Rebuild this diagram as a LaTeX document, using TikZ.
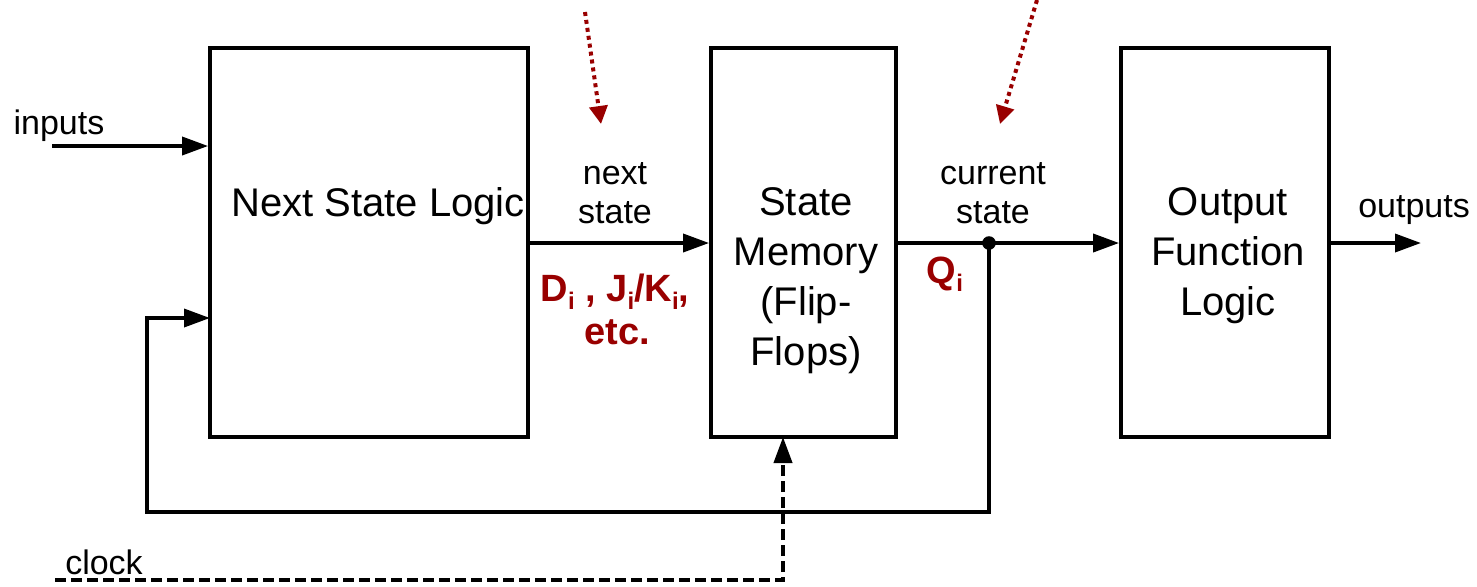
\documentclass[tikz,border=0pt]{standalone}
\usepackage{fontspec}
\setmainfont{Liberation Sans}
\usetikzlibrary{arrows.meta}
\definecolor{dred}{HTML}{990000}
\newcommand\sbi{\raisebox{-0.4ex}{\fontsize{12}{12}\selectfont\bfseries i}}
\begin{document}
\begin{tikzpicture}[x=0.5pt,y=-0.5pt,
  blk/.style={draw,line width=1.9pt,minimum width=#1,minimum height=194.5pt,inner sep=0pt,align=center,font=\fontsize{20}{24.5}\selectfont},
  arr/.style={line width=1.8pt,-{Triangle[length=13pt,width=9pt]}},
  lbl/.style={font=\fontsize{17}{20}\selectfont,inner sep=0pt,align=center},
  rlbl/.style={font=\fontsize{19}{20}\selectfont\bfseries,text=dred,inner sep=0pt,align=center},
  dotarr/.style={draw=dred,line width=2pt,dash pattern=on 2pt off 2pt,-{Triangle[length=9pt,width=9pt,fill=dred]}}]
\useasboundingbox (0,0) rectangle (1477,586);
% boxes
\node[blk=159pt] (nsl) at (369,242.5) {};
\node[blk=92.5pt] (sm) at (803.5,242.5) {};
\node[blk=104pt] (ofl) at (1225,242.5) {};
\node[font=\fontsize{20}{24.5}\selectfont,inner sep=0pt] (nsltxt) at (378,206) {Next State Logic};
\node[font=\fontsize{20}{25}\selectfont,inner sep=0pt,align=center] (smtxt) at (806,281) {State\\Memory\\(Flip-\\Flops)};
\node[font=\fontsize{20}{25}\selectfont,inner sep=0pt,align=center] (ofltxt) at (1228,256) {Output\\Function\\Logic};
% inputs
\coordinate (inS) at (52,146);
\draw[arr] (inS) -- (nsl.west |- inS);
\node[lbl] (inputs) at (59,126) {inputs};
% next state
\coordinate (ns1) at (528,243);
\draw[arr] (ns1) -- (sm.west |- ns1);
\node[lbl] (next) at (615,174) {next};
\node[lbl] (nstate) at (615,213) {state};
\node[rlbl] (dlab) at (615,292) {D\sbi{} , J\sbi/K\sbi,};
\node[rlbl] (etc) at (617,332) {etc.};
% current state
\coordinate (cs1) at (896,243);
\coordinate (cdot) at (989,243);
\draw[arr] (cs1) -- (ofl.west |- cs1);
\fill (cdot) circle (3.4pt);
\node[lbl] (cur) at (993,174) {current};
\node[lbl] (cstate) at (993,213) {state};
\node[rlbl] (qlab) at (945,274) {Q\sbi};
% feedback
\coordinate (fbR) at (989,512);
\coordinate (fbL) at (147,512);
\coordinate (fbT) at (147,318);
\coordinate (fbE) at (210,318);
\draw[arr] (cdot) -- (fbR) -- (fbL) -- (fbT) -- (fbE);
% outputs
\coordinate (outE) at (1421,243);
\draw[arr] (ofl.east |- outE) -- (outE);
\node[lbl] (outputs) at (1414,210) {outputs};
% clock
\coordinate (clkS) at (55,580);
\coordinate (clkC) at (783,580);
\coordinate (clkE) at (783,437);
\draw[arr,line width=2pt,dash pattern=on 5.5pt off 2.5pt] (clkS) -- (clkC) -- (clkE);
\node[lbl] (clock) at (104,562) {clock};
% dotted pointers
\coordinate (p1s) at (585,12);
\coordinate (p1e) at (601,124);
\coordinate (p2s) at (1037,0);
\coordinate (p2e) at (1000,124);
\draw[dotarr] (p1s) -- (p1e);
\draw[dotarr] (p2s) -- (p2e);
\end{tikzpicture}
\end{document}
